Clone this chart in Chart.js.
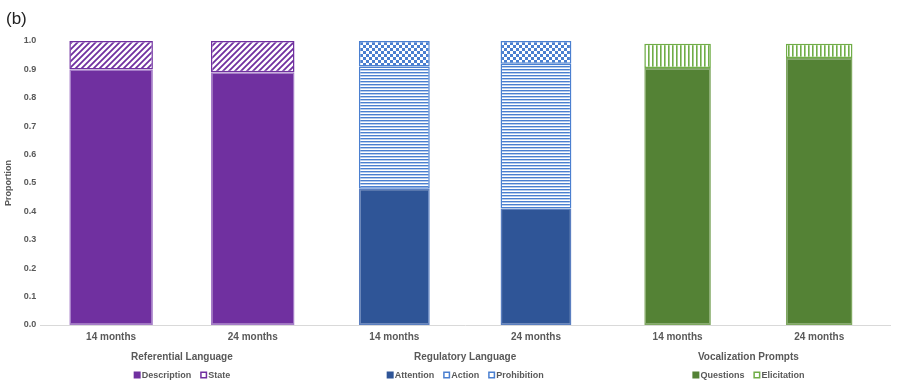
<!DOCTYPE html>
<html>
<head>
<meta charset="utf-8">
<script src="https://cdn.jsdelivr.net/npm/chart.js@4/dist/chart.umd.min.js"></script>
<style>
  html, body { margin: 0; padding: 0; background: #fff; }
  #wrap { width: 900px; height: 384px; position: relative; }
</style>
</head>
<body>
<div id="wrap"><canvas id="myChart"></canvas></div>
<script>
// categories and groups
const months = ['14 months', '24 months', '14 months', '24 months', '14 months', '24 months'];
const groups = ['Referential Language', 'Regulatory Language', 'Vocalization Prompts'];
const yTicks = [0, 0.1, 0.2, 0.3, 0.4, 0.5, 0.6, 0.7, 0.8, 0.9, 1.0];

// proportions per speech category
const description = [0.90, 0.89, null, null, null, null];
const state       = [0.10, 0.11, null, null, null, null];
const attention   = [null, null, 0.48, 0.41, null, null];
const action      = [null, null, 0.43, 0.51, null, null];
const prohibition = [null, null, 0.09, 0.08, null, null];
const questions   = [null, null, null, null, 0.905, 0.94];
const elicitation = [null, null, null, null, 0.085, 0.05];

const PURPLE = '#7030a0';
const BLUE = '#2f5597';
const LBLUE = '#4a7fd0';
const GREEN = '#548235';
const LGREEN = '#70ad47';
const TEXT = '#595959';
const FONT = '"Liberation Sans", Arial, sans-serif';

function makePattern(w, h, draw) {
    const c = document.createElement('canvas');
    c.width = w; c.height = h;
    const g = c.getContext('2d');
    g.fillStyle = '#fff';
    g.fillRect(0, 0, w, h);
    draw(g);
    return g.createPattern(c, 'repeat');
}

const diagPurple = makePattern(6, 6, g => {
    g.strokeStyle = PURPLE;
    g.lineWidth = 1.8;
    g.beginPath();
    g.moveTo(-1, 7); g.lineTo(7, -1);
    g.moveTo(-4, 4); g.lineTo(4, -4);
    g.moveTo(2, 10); g.lineTo(10, 2);
    g.stroke();
});
const hLinesBlue = makePattern(4, 3, g => {
    g.fillStyle = LBLUE;
    g.fillRect(0, 0, 4, 1.4);
});
const checkBlue = makePattern(6, 6, g => {
    g.fillStyle = LBLUE;
    g.fillRect(0, 0, 3, 3);
    g.fillRect(3, 3, 3, 3);
});
const vLinesGreen = makePattern(4, 4, g => {
    g.fillStyle = LGREEN;
    g.fillRect(0, 0, 1.6, 4);
});

const seriesDefs = [
    { label: 'Description', data: description, bg: PURPLE, border: '#a57cc8', bp: 0.59, group: 0 },
    { label: 'State', data: state, bg: diagPurple, border: PURPLE, bp: 0.59, group: 0 },
    { label: 'Attention', data: attention, bg: BLUE, border: '#5b7fc0', bp: 0.50, group: 1 },
    { label: 'Action', data: action, bg: hLinesBlue, border: LBLUE, bp: 0.50, group: 1 },
    { label: 'Prohibition', data: prohibition, bg: checkBlue, border: LBLUE, bp: 0.50, group: 1 },
    { label: 'Questions', data: questions, bg: GREEN, border: '#7fa860', bp: 0.47, group: 2 },
    { label: 'Elicitation', data: elicitation, bg: vLinesGreen, border: LGREEN, bp: 0.47, group: 2 }
];

// group labels and split legends under the category axis
const groupLegendPlugin = {
    id: 'groupLegend',
    afterDraw(chart) {
        const ctx = chart.ctx;
        const x = chart.scales.x;
        ctx.save();
        ctx.fillStyle = '#222';
        ctx.font = '17px ' + FONT;
        ctx.textAlign = 'left';
        ctx.textBaseline = 'middle';
        ctx.fillText('(b)', 6, 19);

        groups.forEach((name, gi) => {
            const cx = (x.getPixelForValue(gi * 2) + x.getPixelForValue(gi * 2 + 1)) / 2;
            ctx.fillStyle = TEXT;
            ctx.font = 'bold 10px ' + FONT;
            ctx.textAlign = 'center';
            ctx.fillText(name, cx, 357);

            const items = seriesDefs.filter(s => s.group === gi);
            ctx.font = 'bold 9px ' + FONT;
            const box = 7, gap = 9;
            const widths = items.map(s => box + 1 + ctx.measureText(s.label).width);
            const total = widths.reduce((a, b) => a + b, 0) + gap * (items.length - 1);
            let px = cx - total / 2;
            items.forEach((s, i) => {
                const y = 375;
                if (typeof s.bg === 'string') {
                    ctx.fillStyle = s.bg;
                    ctx.fillRect(px, y - box / 2, box, box);
                } else {
                    ctx.fillStyle = '#fff';
                    ctx.fillRect(px, y - box / 2, box, box);
                    ctx.strokeStyle = s.border;
                    ctx.lineWidth = 1.5;
                    ctx.strokeRect(px + 0.75, y - box / 2 + 0.75, box - 1.5, box - 1.5);
                }
                ctx.fillStyle = TEXT;
                ctx.textAlign = 'left';
                ctx.fillText(s.label, px + box + 1, y + 0.5);
                px += widths[i] + gap;
            });
        });
        ctx.restore();
    }
};

const chartElement = document.getElementById('myChart');
new Chart(chartElement.getContext('2d'), {
    type: 'bar',
    data: {
        labels: months,
        datasets: seriesDefs.map(s => ({
            label: s.label,
            data: s.data,
            backgroundColor: s.bg,
            borderColor: s.border,
            borderWidth: 1.5,
            borderSkipped: false,
            barPercentage: s.bp,
            categoryPercentage: 1.0
        }))
    },
    options: {
        responsive: true,
        maintainAspectRatio: false,
        animation: false,
        layout: { padding: { top: 41, right: 10, bottom: 35, left: 3 } },
        plugins: {
            legend: { display: false },
            tooltip: { enabled: false }
        },
        scales: {
            x: {
                stacked: true,
                grid: { display: false, drawTicks: false },
                border: { color: '#d9d9d9', width: 1 },
                ticks: {
                    color: TEXT,
                    font: { family: FONT, size: 10, weight: 'bold' },
                    padding: 6,
                    maxRotation: 0
                }
            },
            y: {
                stacked: true,
                min: 0,
                max: 1,
                afterBuildTicks: axis => { axis.ticks = yTicks.map(v => ({ value: v })); },
                grid: { display: false, drawTicks: false },
                border: { display: false },
                title: {
                    display: true,
                    text: 'Proportion',
                    color: TEXT,
                    font: { family: FONT, size: 9, weight: 'bold' },
                    padding: { top: 0, bottom: 6 }
                },
                ticks: {
                    color: TEXT,
                    font: { family: FONT, size: 9, weight: 'bold' },
                    padding: 4,
                    callback: v => Number(v).toFixed(1)
                }
            }
        }
    },
    plugins: [groupLegendPlugin]
});
</script>
</body>
</html>
